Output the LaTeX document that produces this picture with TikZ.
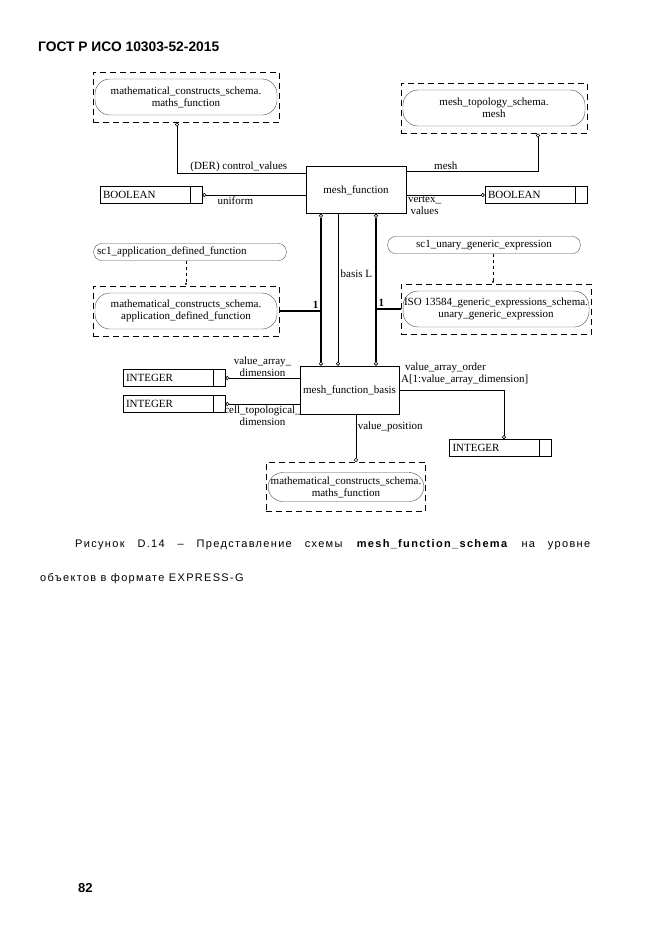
\documentclass[tikz,border=0pt]{standalone}
\usepackage{fontspec}
\setmainfont{Liberation Serif}
\newfontfamily\headfont{Liberation Sans}
\newfontfamily\capfont[LetterSpace=12]{Liberation Sans}
\usetikzlibrary{positioning, arrows.meta, fit, calc}

\begin{document}
\begin{tikzpicture}[x=1pt, y=-1pt,
  dfont/.style={font=\fontsize{11}{12}\selectfont},
  entity/.style={rectangle, draw, line width=0.6pt, dfont, inner sep=2pt},
  typebox/.style={rectangle, draw, line width=0.6pt, dfont, minimum width=102,
    minimum height=17, inner ysep=0pt, inner xsep=3pt, text width=96, align=left,
    path picture={\draw[line width=0.6pt]
      ([xshift=-12pt]path picture bounding box.north east) --
      ([xshift=-12pt]path picture bounding box.south east);}},
  selbox/.style={rectangle, rounded corners=15pt, draw=black!70, thin, dfont,
    align=center, minimum width=182, minimum height=36, inner xsep=1pt},
  frame/.style={rectangle, draw, line width=0.6pt, dash pattern=on 6pt off 4pt,
    inner xsep=2pt, inner ysep=7pt},
  sc1box/.style={rectangle, rounded corners=8pt, draw=black!70, thin, dfont,
    minimum height=17, inner ysep=0pt, text width=186},
  refline/.style={line width=0.6pt, -{Circle[open, length=4pt]}},
  thickref/.style={line width=2.2pt},
  bothref/.style={{Circle[open, length=4pt, line width=0.6pt]}-{Circle[open, length=4pt, line width=0.6pt]}},
  subline/.style={line width=0.6pt, dashed, -{Stealth[length=3pt]}},
  lbl/.style={dfont, inner sep=1.5pt}
]
  \useasboundingbox (0,0) rectangle (661,935);

  \node[anchor=base west, inner sep=0pt, font=\headfont\bfseries\fontsize{13.8}{16}\selectfont]
    (head) at (38,51) {ГОСТ Р ИСО 10303-52-2015};

  \node[selbox] (mathsAi) at (186,97) {mathematical\_constructs\_schema.\\maths\_function};
  \node[frame, fit=(mathsAi)] (mathsA) {};
  \node[selbox] (meshtopI) at (494,108) {mesh\_topology\_schema.\\mesh};
  \node[frame, fit=(meshtopI)] (meshtop) {};

  \node[entity, minimum width=100, minimum height=47] (mf) at (356,190) {mesh\_function};
  \node[typebox] (boolA) at (151,195) {BOOLEAN};
  \node[typebox] (boolB) at (536,195) {BOOLEAN};

  \node[sc1box, align=left] (sc1app) at (190,252) {sc1\_application\_defined\_function};
  \node[selbox] (appfunI) at (186,311) {mathematical\_constructs\_schema.\\application\_defined\_function};
  \node[frame, fit=(appfunI)] (appfun) {};

  \node[sc1box, align=center] (sc1un) at (484,245) {sc1\_unary\_generic\_expression};
  \node[selbox] (unaryI) at (496,309) {ISO 13584\_generic\_expressions\_schema.\\unary\_generic\_expression};
  \node[frame, fit=(unaryI)] (unary) {};

  \node[entity, minimum width=99, minimum height=48] (mfb) at (349.5,390) {mesh\_function\_basis};
  \node[typebox] (intA) at (174,378) {INTEGER};
  \node[typebox] (intB) at (174,404) {INTEGER};
  \node[typebox] (intC) at (500.5,448) {INTEGER};

  \node[selbox, minimum width=156, minimum height=29] (mathsBI) at (346,487) {mathematical\_constructs\_schema.\\maths\_function};
  \node[frame, inner xsep=1.5pt, inner ysep=10pt, fit=(mathsBI)] (mathsB) {};

  \draw[refline] ([yshift=16.5pt]mf.west) -| node[lbl, above, pos=0.26] {(DER) control\_values} ([xshift=-9pt]mathsA.south);
  \draw[refline] (mf.west |- boolA.east) -- node[lbl, below, pos=0.68] {uniform} (boolA.east);
  \draw[refline] ([yshift=18.5pt]mf.east) -| node[lbl, above, pos=0.15] {mesh} ([xshift=44pt]meshtop.south);
  \draw[refline] (mf.east |- boolB.west) -- node[lbl, anchor=north west, align=center, pos=0] {vertex\_\\values} (boolB.west);

  \draw[subline] (sc1app.south -| appfun.north) -- (appfun.north);
  \draw[subline] ([xshift=9pt]sc1un.south) -- ([xshift=9pt]sc1un.south |- unary.north);

  \coordinate (v1) at ([xshift=-35pt]mf.south);
  \coordinate (v2) at ([xshift=-18pt]mf.south);
  \coordinate (v3) at ([xshift=20pt]mf.south);
  \draw[thickref, bothref] (v1) -- (v1 |- mfb.north);
  \draw[refline] (v2) -- (v2 |- mfb.north);
  \draw[thickref, bothref] (v3) -- (v3 |- mfb.north);
  \draw[thickref] (appfun.east) -- (appfun.east -| v1) node[lbl, above left, font=\bfseries\fontsize{11}{12}\selectfont] {1};
  \draw[thickref] (unary.west) -- (unary.west -| v3) node[lbl, above right, font=\bfseries\fontsize{11}{12}\selectfont] {1};
  \node[lbl, anchor=west] (basisL) at (339,274) {basis L};

  \draw[refline] (mfb.west |- intA.east) -- node[lbl, above, align=center] {value\_array\_\\dimension} (intA.east);
  \draw[refline] (mfb.west |- intB.east) -- node[lbl, below, align=center] {cell\_topological\_\\dimension} (intB.east);
  \draw[refline] (mfb.east) -| node[lbl, anchor=south west, align=left, pos=0, yshift=3pt] {\hspace{4pt}value\_array\_order\\A[1:value\_array\_dimension]} ([xshift=3.5pt]intC.north);
  \draw[refline] ([xshift=6.5pt]mfb.south) -- node[lbl, right, pos=0.26] {value\_position} ([xshift=6.5pt]mfb.south |- mathsB.north);

  \node[anchor=base west, inner sep=0pt, font=\capfont\fontsize{11}{12}\selectfont] (cap1) at (75,547)
    {\makebox[515pt][s]{Рисунок D.14 – Представление схемы \textbf{mesh\_function\_schema} на уровне}};
  \node[anchor=base west, inner sep=0pt, font=\capfont\fontsize{11}{12}\selectfont] (cap2) at (40,581)
    {объектов в формате EXPRESS-G};
  \node[anchor=base west, inner sep=0pt, font=\headfont\bfseries\fontsize{13}{16}\selectfont] (pnum) at (78,892) {82};
\end{tikzpicture}
\end{document}
